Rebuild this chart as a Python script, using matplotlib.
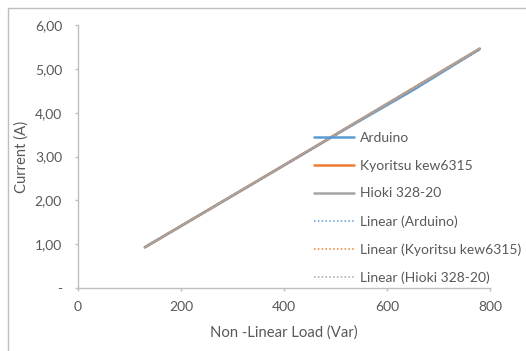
import matplotlib
matplotlib.use("Agg")
import matplotlib.pyplot as plt
from matplotlib.patches import Rectangle
from matplotlib.ticker import FuncFormatter
import numpy as np

plt.rcParams['font.family'] = ['Lato', 'DejaVu Sans']

# Measured load (Var) and current (A) for each instrument
load_var = [130, 260, 390, 520, 650, 780]
arduino = [0.93, 1.83, 2.73, 3.63, 4.51, 5.45]
kyoritsu = [0.93, 1.83, 2.73, 3.64, 4.55, 5.46]
hioki = [0.93, 1.83, 2.73, 3.64, 4.55, 5.46]

series_names = ["Arduino", "Kyoritsu kew6315", "Hioki 328-20"]
series_values = [arduino, kyoritsu, hioki]
colors = ["#5B9BD5", "#ED7D31", "#A5A5A5"]

x_ticks = [0, 200, 400, 600, 800]
y_ticks = [0, 1, 2, 3, 4, 5, 6]

W, H = 526, 351
fig = plt.figure(figsize=(W / 100, H / 100), dpi=100)
ax = fig.add_axes([78 / W, 1 - 288 / H, (490 - 78) / W, (288 - 25) / H])

# chart area border
fig.patches.append(Rectangle((8 / W, -0.1), 1.2, 1.1 - 8 / H,
                             transform=fig.transFigure, fill=False,
                             edgecolor="#BFBFBF", linewidth=1.0))

x = np.array(load_var, dtype=float)
lines = []
for name, vals, c in zip(series_names, series_values, colors):
    l, = ax.plot(x, vals, color=c, linewidth=1.8, label=name,
                 solid_capstyle="round")
    lines.append(l)

# linear trendlines
for name, vals, c in zip(series_names, series_values, colors):
    k, b = np.polyfit(x, vals, 1)
    xs = np.array([x.min(), x.max()])
    l, = ax.plot(xs, k * xs + b, color=c, linewidth=1.1, linestyle=(0, (1, 1.5)),
                 label=f"Linear ({name})")
    lines.append(l)

ax.set_xlim(0, 800)
ax.set_ylim(0, 6)
ax.set_xticks(x_ticks)
ax.set_yticks(y_ticks)
ax.yaxis.set_major_formatter(FuncFormatter(
    lambda v, p: "-" if abs(v) < 1e-9 else f"{v:.2f}".replace(".", ",")))

for s in ["top", "right"]:
    ax.spines[s].set_visible(False)
for s in ["left", "bottom"]:
    ax.spines[s].set_color("#BFBFBF")
    ax.spines[s].set_linewidth(1.0)
ax.tick_params(colors="#BFBFBF", labelcolor="#595959", labelsize=10,
               length=2.5, width=1.0, direction="out")
ax.tick_params(axis="x", pad=7)
ax.tick_params(axis="y", pad=9)

ax.set_xlabel("Non -Linear Load (Var)", color="#595959", fontsize=10.7, va="center")
ax.set_ylabel("Current (A)", color="#595959", fontsize=10.7, va="center")
ax.xaxis.set_label_coords(0.5, (288 - 333) / 263)
ax.yaxis.set_label_coords((22 - 78) / 412, 0.5)

leg = ax.legend(handles=lines, loc="upper left",
                bbox_to_anchor=(301 / W, 1 - 119.5 / H), bbox_transform=fig.transFigure,
                frameon=False, fontsize=10, labelcolor="#595959",
                handlelength=2.95, handletextpad=0.43, labelspacing=1.13)

fig.savefig("out.png", dpi=100)
